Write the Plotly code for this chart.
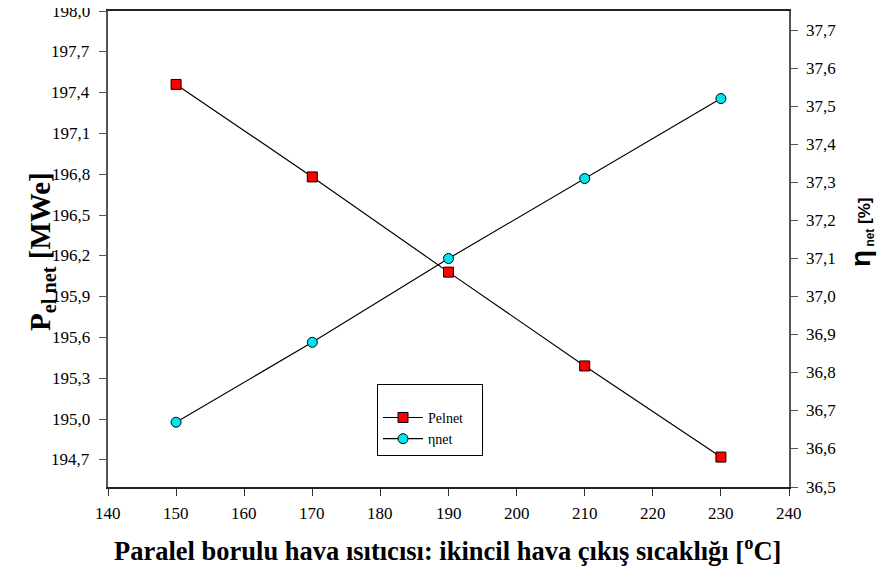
import plotly.graph_objects as go

temps = [150, 170, 190, 210, 230]
pel_net = [197.46, 196.78, 196.08, 195.39, 194.72]
eta_net = [36.67, 36.88, 37.10, 37.31, 37.52]

x_ticks = list(range(140, 250, 10))
left_ticks = [194.7, 195.0, 195.3, 195.6, 195.9, 196.2, 196.5, 196.8, 197.1, 197.4, 197.7, 198.0]
right_ticks = [36.5, 36.6, 36.7, 36.8, 36.9, 37.0, 37.1, 37.2, 37.3, 37.4, 37.5, 37.6, 37.7]

x_labels = [str(v) for v in x_ticks]
left_labels = [f"{v:.1f}".replace(".", ",") for v in left_ticks]
right_labels = [f"{v:.1f}".replace(".", ",") for v in right_ticks]

serif = "Liberation Serif, Times New Roman, DejaVu Serif, serif"
sans = "Liberation Sans, Arial, sans-serif"

OFF = 8
W, H = 895 - OFF, 587 - OFF
L, R, T, B = 108 - OFF, 106, 11 - OFF, 100

fig = go.Figure()
fig.add_trace(go.Scatter(
    x=temps, y=pel_net, name="Pelnet\u00a0\u00a0\u00a0\u00a0", mode="lines+markers",
    line=dict(color="black", width=1.2),
    marker=dict(symbol="square", size=10, color="#ff0000", line=dict(color="black", width=1)),
    yaxis="y"))
fig.add_trace(go.Scatter(
    x=temps, y=eta_net, name="ηnet", mode="lines+markers",
    line=dict(color="black", width=1.2),
    marker=dict(symbol="circle", size=10, color="#00e5ee", line=dict(color="black", width=1)),
    yaxis="y2"))

fig.update_layout(
    template="none",
    width=W, height=H,
    margin=dict(l=L, r=R, t=T, b=B, autoexpand=False),
    font=dict(family=serif, size=18, color="black"),
    paper_bgcolor="white", plot_bgcolor="white",
    showlegend=True,
    legend=dict(x=(377 - 108) / 681, y=(487 - 384) / 476, xanchor="left", yanchor="top",
                bordercolor="black", borderwidth=1, bgcolor="white",
                font=dict(family=serif, size=14, color="black"),
                title=dict(text=" ", font=dict(size=13)),
                itemwidth=40),
    xaxis=dict(range=[140, 240], tickmode="array", tickvals=x_ticks,
               showticklabels=False,
               ticks="outside", ticklen=7, tickcolor="#333", showline=True,
               linecolor="#222", linewidth=1.5, mirror=True, showgrid=False,
               zeroline=False),
    yaxis=dict(range=[194.5, 198.0], tickmode="array", tickvals=left_ticks,
               showticklabels=False, ticks="outside", ticklen=7, tickcolor="#555",
               showline=True, linecolor="#555", linewidth=1.5, showgrid=False,
               zeroline=False),
    yaxis2=dict(range=[36.5, 37.75], tickmode="array", tickvals=right_ticks,
                showticklabels=False, overlaying="y", side="right",
                ticks="outside", ticklen=7, tickcolor="#555", showline=True,
                linecolor="#555", linewidth=1.5, showgrid=False, zeroline=False),
)

pw = W - L - R
ph = H - T - B
def px_to_paper(px, py):
    px -= OFF
    py -= OFF
    return (px - L) / pw, (H - B - py) / ph

tickfont = dict(family=serif, size=17, color="black")

# tick labels, positioned with the axes' own data scales
lx, _ = px_to_paper(92, 0)
for v, t in zip(left_ticks, left_labels):
    fig.add_annotation(text=t, x=lx, xref="paper", y=v, yref="y", xanchor="right",
                       yanchor="middle", showarrow=False, font=tickfont)
rx, _ = px_to_paper(804, 0)
for v, t in zip(right_ticks, right_labels):
    fig.add_annotation(text=t, x=rx, xref="paper", y=v, yref="y2", xanchor="left",
                       yanchor="middle", showarrow=False, font=tickfont)
_, by = px_to_paper(0, 502)
for v, t in zip(x_ticks, x_labels):
    fig.add_annotation(text=t, x=v, xref="x", y=by, yref="paper", xanchor="center",
                       yanchor="top", showarrow=False, font=tickfont)

ax, ay = px_to_paper(22, 252)
fig.add_annotation(text="<b>P<sub>el net</sub> [MWe]</b>", x=ax, y=ay, xref="paper", yref="paper",
                   showarrow=False, textangle=-90, font=dict(family=serif, size=29, color="black"))
ax, ay = px_to_paper(879, 233)
fig.add_annotation(text="<b><span style='font-size:28px'>η</span><sub> net</sub> [%]</b>", x=ax, y=ay,
                   xref="paper", yref="paper", showarrow=False, textangle=-90,
                   font=dict(family=sans, size=17, color="black"))
ax, ay = px_to_paper(447, 568)
fig.add_annotation(text="<b>Paralel borulu hava ısıtıcısı: ikincil hava çıkış sıcaklığı [<sup>o</sup>C]</b>",
                   x=ax, y=ay, xref="paper", yref="paper", showarrow=False,
                   font=dict(family=serif, size=26.5, color="black"))

fig.write_html("out.html")
